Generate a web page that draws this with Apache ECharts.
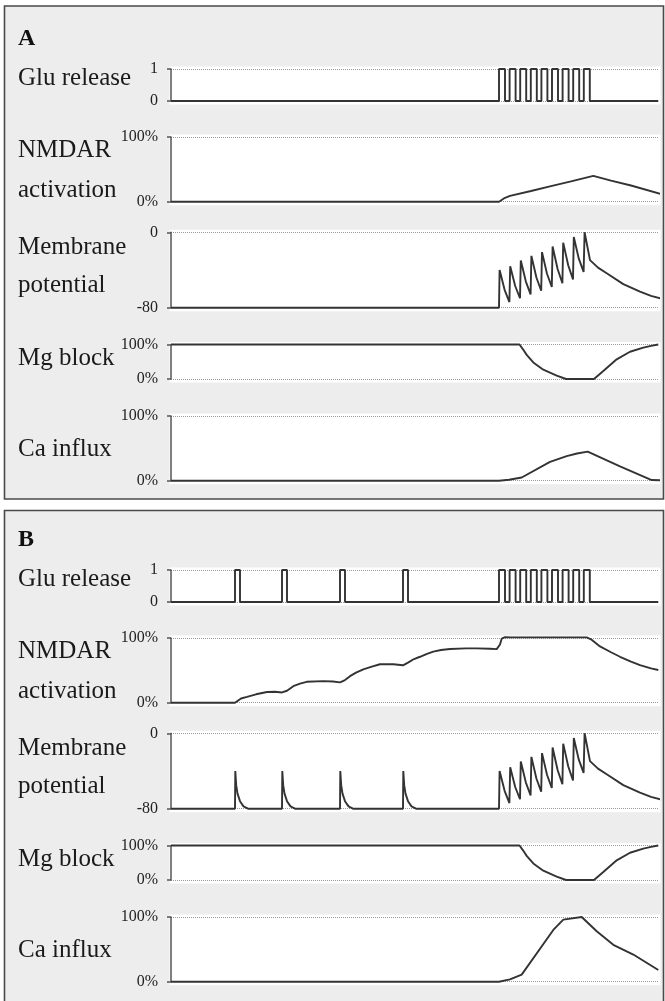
<!DOCTYPE html>
<html><head><meta charset="utf-8">
<script src="https://cdn.jsdelivr.net/npm/echarts@6/dist/echarts.min.js"></script>
<style>html,body{margin:0;padding:0;background:#fff}#c{width:665px;height:1001px}</style>
</head><body><div id="c"></div>
<script>
// ---------- DATA (time in arbitrary units) ----------
const timeMax = 487;
const traceEnd = 487.3;

const panelNames = ['A', 'B'];
const rowLabels = [['Glu release'], ['NMDAR', 'activation'], ['Membrane', 'potential'], ['Mg block'], ['Ca influx']];
const yMins = [0, 0, -80, 0, 0];
const yMaxs = [1, 100, 0, 100, 100];
const ySuffix = ['', '%', '', '%', '%'];

// glutamate release pulses (onset / offset)
const gluTrainOn  = [328, 338.6, 349.2, 359.8, 370.4, 381, 391.6, 402.2, 412.8];
const gluTrainOff = [334, 344.6, 355.2, 365.8, 376.4, 387, 397.6, 408.2, 418.8];
const gluSingleOn  = [64, 111, 169, 232];
const gluSingleOff = [69, 116, 174, 237];

// NMDAR activation (%)
const nmdarA = [[0,0],[328,0],[330,2.5],[334,6],[339,9],[360,16.5],[380,24],[400,31.5],[422.3,40],[440,32.5],[460,25],[494,10]];
const nmdarB = [[0,0],[64,0],[66,3],[70,6.5],[76,9],[85,13],[96,16.5],[104,17],[111,15.8],[116,18.5],[122.3,25.5],[129,29.5],[135.7,32.3],[152.3,33.3],[162,32.8],[169,31.5],[174,35],[179,41],[185,46.5],[192.3,51.6],[200,55.5],[209,59.4],[222.3,59.4],[232,57.8],[237,62],[243,67.5],[249,71],[256,75.5],[262.3,79],[270,81.5],[279,83],[295,84],[305.7,84],[319,83.3],[325.7,82.8],[327.3,84],[329,90],[330.7,99],[334,101.3],[340,101],[415.7,101],[420,98],[429,87],[440,78],[449,71],[460,63.5],[469,58],[480,53],[487.3,50.5]];

// membrane potential (mV): pulse-train part shared by A and B
const membraneTrain = [[328,-80],[328.6,-40],[333.6,-61],[338.4,-74],[339.2,-36],[344.2,-57],[349,-70],[349.8,-30],[354.8,-52],[359.6,-66],[360.4,-25],[365.4,-48],[370.2,-62],[371,-21],[376,-44],[380.8,-58],[381.6,-15],[386.6,-39],[391.4,-54],[392.2,-11],[397.2,-35],[402,-50],[402.8,-5],[407.8,-28],[412.6,-42],[413.6,0],[414.7,0],[419,-29.5],[427,-37.5],[435.7,-43.5],[452.3,-55],[469,-63],[480,-67.5],[491,-70.5]];
// single-spike shape (dt after onset, mV) for panel B's isolated releases
const singleSpikeDt = [0, 0.3, 1.2, 2.5, 5, 8.5, 13];
const singleSpikeMv = [-80, -40, -55, -64, -72, -77.5, -80];

// Mg block (%)
const mgBlock = [[0,100],[348.5,100],[352,86],[355.7,70],[362.3,48],[372.3,27],[385.7,10],[395,0],[423,0],[432.3,23],[445.7,57],[459,79],[472.3,91],[480,96],[487.3,100]];

// Ca influx (%)
const caA = [[0,0],[328,0],[338,1.5],[350.7,5],[379,29],[395.7,38],[406,42],[416.7,45],[449,22],[480.7,1],[492,0.5]];
const caB = [[0,0],[328,0],[339,3.5],[350.7,11],[382.3,80],[392.3,96],[410.7,100],[425.7,78],[442.3,57],[462.3,42],[487.3,18]];

// ---------- BUILD ----------
function pulses(onList, offList) {
  const pts = [[0, 0]];
  for (let i = 0; i < onList.length; i++) {
    pts.push([onList[i], 0], [onList[i], 1], [offList[i], 1], [offList[i], 0]);
  }
  pts.push([traceEnd, 0]);
  return pts;
}
function membraneWithSingles(onsets) {
  const pts = [[0, -80]];
  onsets.forEach(o => singleSpikeDt.forEach((d, j) => pts.push([o + d, singleSpikeMv[j]])));
  return pts.concat(membraneTrain);
}
const gluA = pulses(gluTrainOn, gluTrainOff);
const gluB = pulses(gluSingleOn.concat(gluTrainOn), gluSingleOff.concat(gluTrainOff));
const memA = [[0, -80]].concat(membraneTrain);
const memB = membraneWithSingles(gluSingleOn);

const panelData = [
  [gluA, nmdarA, memA, mgBlock, caA],
  [gluB, nmdarB, memB, mgBlock, caB]
];

// ---------- LAYOUT ----------
const panelShift = [0, 501];
const rowTops = [69, 137, 232.3, 344.5, 416];
const rowHeights = [32, 64.7, 75.4, 34.5, 64.7];
const labelBaselines = [[87], [159, 199], [256, 294], [367], [458]];
const gridLeft = 171, gridWidth = 487;
const labelFont = 25, letterFont = 24;
const serif = '"Liberation Serif", "Times New Roman", serif';

const grids = [], xAxes = [], yAxes = [], series = [], graphics = [];

// panel boxes
const boxes = [[4.5, 6, 659, 493], [4.5, 510.5, 659, 492]];
boxes.forEach(b => graphics.push({
  type: 'rect', z: -20, shape: {x: b[0], y: b[1], width: b[2], height: b[3]},
  style: {fill: '#ededed', stroke: '#4a4a4a', lineWidth: 1.6}
}));

panelNames.forEach((name, p) => {
  const sh = panelShift[p];
  graphics.push({type: 'text', z: 10, x: 18, y: 47 + sh - 0.3375 * letterFont,
    style: {text: name, font: 'bold ' + letterFont + 'px ' + serif, fill: '#111', verticalAlign: 'middle'}});
  rowLabels.forEach((lines, r) => {
    const gi = p * 5 + r;
    const top = rowTops[r] + sh;
    graphics.push({type: 'rect', z: -10,
      shape: {x: gridLeft - 1.5, y: top - 2.5, width: gridWidth + 4, height: rowHeights[r] + 6},
      style: {fill: '#ffffff'}});
    lines.forEach((t, k) => graphics.push({type: 'text', z: 10, x: 18,
      y: labelBaselines[r][k] + sh - 0.3375 * labelFont,
      style: {text: t, font: labelFont + 'px ' + serif, fill: '#1a1a1a', verticalAlign: 'middle'}}));
    grids.push({left: gridLeft, top: top, width: gridWidth, height: rowHeights[r], show: false});
    xAxes.push({gridIndex: gi, type: 'value', min: 0, max: timeMax, show: false});
    const suf = ySuffix[r];
    yAxes.push({
      gridIndex: gi, type: 'value', min: yMins[r], max: yMaxs[r], interval: yMaxs[r] - yMins[r],
      offset: 5,
      axisLine: {show: true, lineStyle: {color: '#555', width: 1.5}},
      axisTick: {show: true, length: 4, lineStyle: {color: '#555', width: 1.5}},
      axisLabel: {margin: 8, color: '#222', fontFamily: serif, fontSize: 16,
        formatter: v => v + suf},
      splitLine: {show: true, lineStyle: {type: 'dotted', color: '#9a9a9a', width: 1}}
    });
    series.push({
      type: 'line', xAxisIndex: gi, yAxisIndex: gi, data: panelData[p][r],
      symbol: 'none', showSymbol: false, clip: false, z: 5,
      lineStyle: {color: '#333', width: 1.9}
    });
  });
});

const chart = echarts.init(document.getElementById('c'), null, {renderer: 'canvas'});
chart.setOption({
  animation: false,
  backgroundColor: '#ffffff',
  grid: grids, xAxis: xAxes, yAxis: yAxes, series: series,
  graphic: {elements: graphics}
});
</script></body></html>
